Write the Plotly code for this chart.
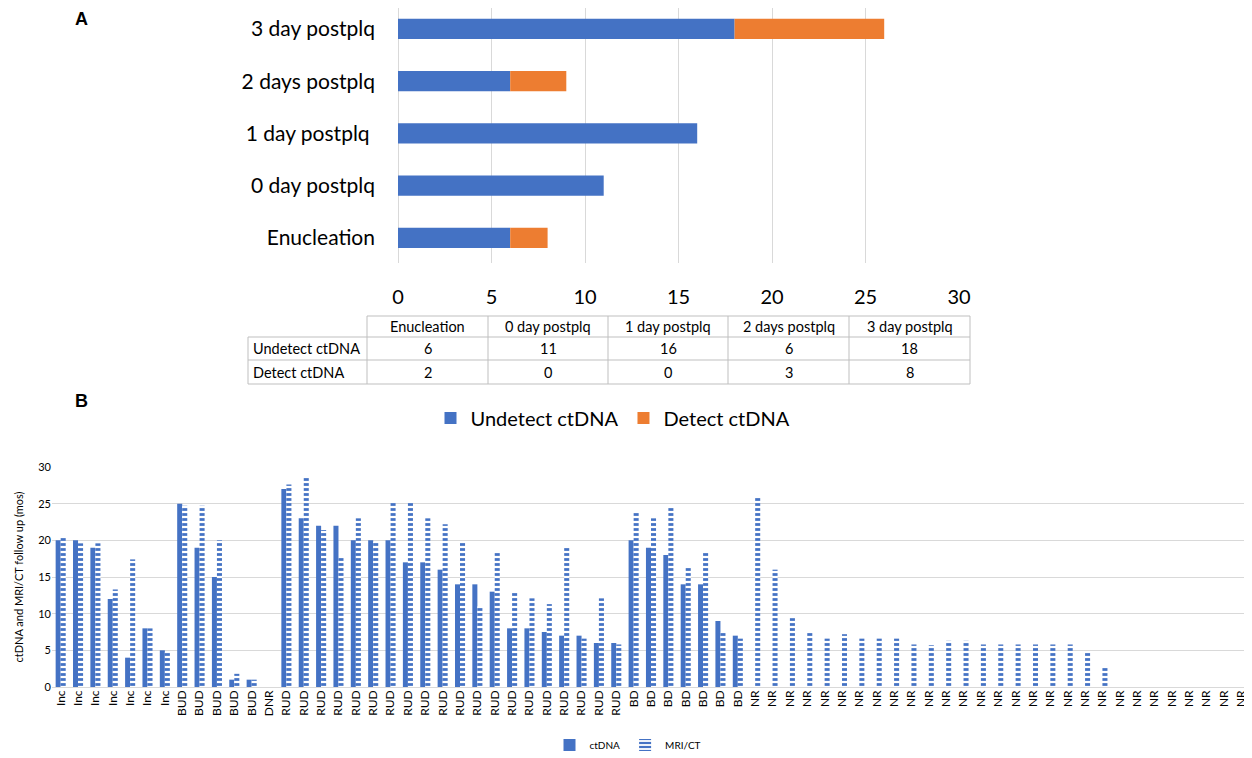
import plotly.graph_objects as go

# ---------------- Panel A data ----------------
a_categories = ["Enucleation", "0 day postplq", "1 day postplq ", "2 days postplq", "3 day postplq"]
a_undetect = [6, 11, 16, 6, 18]
a_detect = [2, 0, 0, 3, 8]
table_header = ["Enucleation", "0 day postplq", "1 day postplq", "2 days postplq", "3 day postplq"]
table_rows = ["Undetect ctDNA", "Detect ctDNA"]

# ---------------- Panel B data ----------------
b_labels = (["Inc"] * 7 + ["BUD"] * 5 + ["DNR"] + ["RUD"] * 20 + ["BD"] * 7 + ["NR"] * 29)
b_ctdna = [20, 20, 19, 12, 4, 8, 5,
           25, 19, 15, 1, 1,
           0,
           27, 23, 22, 22, 20, 20, 20, 17, 17, 16, 14, 14, 13, 8, 8, 7.5, 7, 7, 6, 6,
           20, 19, 18, 14, 14, 9, 7,
           0, 0, 0, 0, 0, 0, 0, 0, 0, 0, 0, 0, 0, 0, 0, 0, 0, 0, 0, 0, 0, 0, 0, 0, 0, 0, 0, 0, 0]
b_mri = [20.6, 19.6, 19.6, 13.3, 17.4, 8, 4.8,
         24.7, 24.7, 20, 1.8, 1,
         0,
         27.6, 28.5, 21.4, 17.6, 23, 19.8, 25.3, 25.3, 23, 22.2, 19.9, 11, 18.3, 12.9, 12.1, 11.3, 19, 6.6, 12.1, 5.8,
         23.8, 23, 24.6, 16.4, 18.3, 7.4, 6.6,
         26, 16, 9.4, 7.4, 6.6, 7.2, 6.6, 6.6, 6.6, 5.8, 5.7, 6.3, 6.3, 5.8, 5.8, 5.8, 5.8, 5.8, 5.8, 4.7, 2.6,
         0, 0, 0, 0, 0, 0, 0, 0]

BLUE = "#4472C4"
ORANGE = "#ED7D31"
GRID = "#D9D9D9"
TABLE_LINE = "#BFBFBF"
FONT = "Lato, Carlito, 'Open Sans', sans-serif"

# page has an 8px body margin; figure is placed at (8, 8)
W, H, OFF = 1244, 750, 8


def px(x):
    return min(max((x - OFF) / W, 0.0), 1.0)


def py(y):
    return min(max(1 - (y - OFF) / H, 0.0), 1.0)


b_pos = list(range(len(b_labels)))

fig = go.Figure()

# Panel A bars (horizontal stacked, via base)
fig.add_trace(go.Bar(y=a_categories, x=a_undetect, orientation="h", name="Undetect ctDNA",
                     marker_color=BLUE, width=0.39, xaxis="x", yaxis="y", legend="legend"))
fig.add_trace(go.Bar(y=a_categories, x=a_detect, base=a_undetect, orientation="h", name="Detect ctDNA",
                     marker_color=ORANGE, width=0.39, xaxis="x", yaxis="y", legend="legend"))

# Panel B bars
fig.add_trace(go.Bar(x=b_pos, y=b_ctdna, name="ctDNA", marker_color=BLUE,
                     offset=-0.29, width=0.29, xaxis="x2", yaxis="y2", legend="legend2"))
fig.add_trace(go.Bar(x=b_pos, y=b_mri, name="MRI/CT", marker_color=BLUE,
                     marker_line_width=0,
                     marker_pattern=dict(shape="-", fillmode="replace", bgcolor="white",
                                         fgcolor=BLUE, size=5, solidity=0.55),
                     offset=0.0, width=0.29, xaxis="x2", yaxis="y2", legend="legend2"))

# ---------------- Table (shapes + annotations) ----------------
col_edges = [248, 367, 488, 608, 728, 849, 970]
row_edges = [316, 337, 360, 384]
shapes = []
shapes.append(dict(type="line", xref="paper", yref="paper", x0=px(col_edges[1]), x1=px(col_edges[-1]),
                   y0=py(row_edges[0]), y1=py(row_edges[0]), line=dict(color=TABLE_LINE, width=1)))
for r in row_edges[1:]:
    shapes.append(dict(type="line", xref="paper", yref="paper", x0=px(col_edges[0]), x1=px(col_edges[-1]),
                       y0=py(r), y1=py(r), line=dict(color=TABLE_LINE, width=1)))
shapes.append(dict(type="line", xref="paper", yref="paper", x0=px(col_edges[0]), x1=px(col_edges[0]),
                   y0=py(row_edges[1]), y1=py(row_edges[-1]), line=dict(color=TABLE_LINE, width=1)))
for c in col_edges[1:]:
    shapes.append(dict(type="line", xref="paper", yref="paper", x0=px(c), x1=px(c),
                       y0=py(row_edges[0]), y1=py(row_edges[-1]), line=dict(color=TABLE_LINE, width=1)))

annotations = []
tfont = dict(size=14.5, family=FONT, color="black")
for j, h in enumerate(table_header):
    cx = (col_edges[j + 1] + col_edges[j + 2]) / 2
    cy = (row_edges[0] + row_edges[1]) / 2
    annotations.append(dict(text=h, x=px(cx), y=py(cy), xref="paper", yref="paper",
                            xanchor="center", yanchor="middle", showarrow=False, font=tfont))
row_values = [a_undetect, a_detect]
for i, name in enumerate(table_rows):
    cy = (row_edges[i + 1] + row_edges[i + 2]) / 2
    annotations.append(dict(text=name, x=px(col_edges[0] + 3), y=py(cy), xref="paper", yref="paper",
                            xanchor="left", yanchor="middle", showarrow=False, font=tfont))
    for j, v in enumerate(row_values[i]):
        cx = (col_edges[j + 1] + col_edges[j + 2]) / 2
        annotations.append(dict(text=str(v), x=px(cx), y=py(cy), xref="paper", yref="paper",
                                xanchor="center", yanchor="middle", showarrow=False, font=tfont))

annotations.append(dict(text="<b>A</b>", x=px(81), y=py(19), xref="paper", yref="paper",
                        xanchor="center", yanchor="middle", showarrow=False,
                        font=dict(size=18, family="Liberation Sans, Arial", color="black")))
annotations.append(dict(text="<b>B</b>", x=px(81), y=py(401), xref="paper", yref="paper",
                        xanchor="center", yanchor="middle", showarrow=False,
                        font=dict(size=18, family="Liberation Sans, Arial", color="black")))

fig.update_layout(
    width=W, height=H,
    template="none",
    paper_bgcolor="white", plot_bgcolor="white",
    margin=dict(l=0, r=0, t=0, b=0, autoexpand=False),
    barmode="overlay",
    font=dict(family=FONT, color="black"),
    xaxis=dict(domain=[px(398), px(959)], anchor="y", range=[0, 30], dtick=5,
               showgrid=True, gridcolor=GRID, zeroline=True, zerolinecolor=GRID, zerolinewidth=1,
               showline=False, ticks="", tickfont=dict(size=20, family=FONT, color="black"),
               ticklabelstandoff=20, automargin=False, ticklabeloverflow="allow"),
    yaxis=dict(domain=[py(263), py(8)], anchor="x", type="category", range=[-0.48, 4.40],
               showgrid=False, zeroline=False, showline=False, ticks="",
               tickfont=dict(size=21, family=FONT, color="black"), ticklabelstandoff=22,
               automargin=False),
    xaxis2=dict(domain=[px(52), px(1250)], anchor="y2", range=[-0.5, len(b_labels) - 0.5],
                tickmode="array", tickvals=b_pos, ticktext=b_labels, tickangle=-90,
                showgrid=False, zeroline=False, showline=False, ticks="",
                tickfont=dict(size=12, family=FONT, color="black"), automargin=False,
                ticklabeloverflow="allow"),
    yaxis2=dict(domain=[py(687), py(467)], anchor="x2", range=[0, 30], dtick=5,
                showgrid=True, gridcolor=GRID, zeroline=True, zerolinecolor=GRID, zerolinewidth=1,
                showline=False, ticks="", tickfont=dict(size=11, family=FONT, color="black"),
                automargin=False, ticklabeloverflow="allow",
                title=dict(text="ctDNA and MRI/CT follow up (mos)", font=dict(size=11, family=FONT),
                           standoff=12)),
    legend=dict(orientation="h", x=px(613), y=py(418), xanchor="center", yanchor="middle",
                font=dict(size=20, family=FONT, color="black"), bgcolor="rgba(0,0,0,0)",
                traceorder="normal"),
    legend2=dict(orientation="h", x=px(628), y=py(745), xanchor="center", yanchor="middle",
                 font=dict(size=10, family=FONT, color="black"), bgcolor="rgba(0,0,0,0)"),
    shapes=shapes,
    annotations=annotations,
)

fig.write_html("out.html")
